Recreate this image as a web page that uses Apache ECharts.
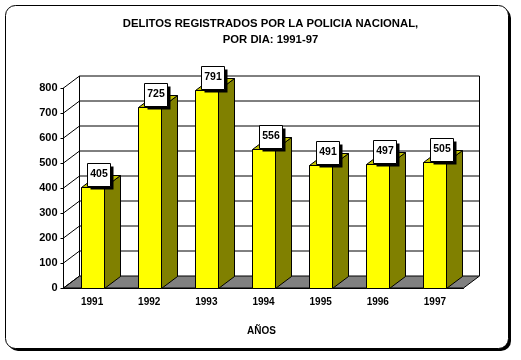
<!DOCTYPE html>
<html>
<head>
<meta charset="utf-8">
<style>
html, body { margin: 0; padding: 0; background: #fff; }
#chart { width: 521px; height: 360px; }
</style>
<script src="https://cdn.jsdelivr.net/npm/echarts@6/dist/echarts.min.js"></script>
</head>
<body>
<div id="chart"></div>
<script>
const years = ['1991', '1992', '1993', '1994', '1995', '1996', '1997']
const delitos = [405, 725, 791, 556, 491, 497, 505]
const yTicks = [0, 100, 200, 300, 400, 500, 600, 700, 800]
const titleText = 'DELITOS REGISTRADOS POR LA POLICIA NACIONAL,\nPOR DIA: 1991-97'
const xName = 'AÑOS'

const font = '"Liberation Sans", Arial, sans-serif'
const depthX = 16
const depthY = 12
const barW = 23
const line = { stroke: '#000', lineWidth: 1 }

// back wall, side wall and floor
function renderWall(params, api) {
    const box = params.coordSys
    const y = api.coord([0, api.value(1)])[1]
    const left = box.x
    const right = box.x + box.width
    const children = []
    if (api.value(1) === 0) {
        children.push({
            type: 'polygon',
            shape: { points: [[left, y], [right, y], [right + depthX, y - depthY], [left + depthX, y - depthY]] },
            style: { fill: '#808080', stroke: '#000', lineWidth: 1 }
        })
        children.push({
            type: 'line',
            shape: { x1: left + depthX, y1: box.y - depthY, x2: left + depthX, y2: y - depthY },
            style: line
        })
        children.push({
            type: 'line',
            shape: { x1: right + depthX, y1: box.y - depthY, x2: right + depthX, y2: y - depthY },
            style: line
        })
    } else {
        children.push({
            type: 'line',
            shape: { x1: left + depthX, y1: y - depthY, x2: right + depthX, y2: y - depthY },
            style: line
        })
    }
    children.push({
        type: 'line',
        shape: { x1: left, y1: y, x2: left + depthX, y2: y - depthY },
        style: line
    })
    return { type: 'group', children: children }
}

function renderBar(params, api) {
    const top = api.coord([api.value(0), api.value(1)])
    const base = api.coord([api.value(0), 0])
    const x0 = Math.round(top[0] - barW / 2) + 0.5
    const x1 = x0 + barW
    const yt = Math.round(top[1]) + 0.5
    const yb = Math.round(base[1]) + 0.5
    return {
        type: 'group',
        children: [
            {
                type: 'polygon',
                shape: { points: [[x1, yt], [x1 + depthX, yt - depthY], [x1 + depthX, yb - depthY], [x1, yb]] },
                style: { fill: '#808000', stroke: '#000', lineWidth: 1 }
            },
            {
                type: 'polygon',
                shape: { points: [[x0, yt], [x1, yt], [x1 + depthX, yt - depthY], [x0 + depthX, yt - depthY]] },
                style: { fill: '#c0c000', stroke: '#000', lineWidth: 1 }
            },
            {
                type: 'rect',
                shape: { x: x0, y: yt, width: barW, height: yb - yt },
                style: { fill: '#ffff00', stroke: '#000', lineWidth: 1 }
            }
        ]
    }
}

function renderLabel(params, api) {
    const top = api.coord([api.value(0), api.value(1)])
    const bx = Math.round(top[0] - 5) + 0.5
    const by = Math.round(top[1] - 24) + 0.5
    return {
        type: 'group',
        children: [
            {
                type: 'rect',
                shape: { x: bx + 3, y: by + 3, width: 23, height: 23 },
                style: { fill: '#000' }
            },
            {
                type: 'rect',
                shape: { x: bx, y: by, width: 23, height: 23 },
                style: { fill: '#fff', stroke: '#000', lineWidth: 1 }
            },
            {
                type: 'text',
                style: {
                    x: bx + 11.5,
                    y: by + 11,
                    text: String(api.value(1)),
                    align: 'center',
                    verticalAlign: 'middle',
                    font: 'bold 10.5px ' + font,
                    fill: '#000'
                }
            }
        ]
    }
}

const myChart = echarts.init(document.getElementById('chart'))
myChart.setOption({
    animation: false,
    backgroundColor: '#fff',
    graphic: [
        // frame with heavier right and bottom edges
        { type: 'rect', z: -10, silent: true, shape: { x: 8, y: 8, width: 503, height: 343, r: 10 }, style: { fill: '#000' } },
        { type: 'rect', z: -9, silent: true, shape: { x: 5.5, y: 5.5, width: 503, height: 343, r: 10 }, style: { fill: '#fff', stroke: '#000', lineWidth: 1 } }
    ],
    title: {
        text: titleText,
        left: 265.5,
        top: 11,
        textAlign: 'center',
        textStyle: { fontFamily: font, fontSize: 11.3, fontWeight: 'bold', color: '#000', lineHeight: 16 }
    },
    grid: { left: 63.5, top: 88, width: 400, height: 200 },
    xAxis: {
        type: 'category',
        data: years,
        name: xName,
        nameLocation: 'middle',
        nameGap: 38,
        nameTextStyle: { fontFamily: font, fontSize: 10, fontWeight: 'bold', color: '#000', padding: [0, 4, 0, 0] },
        axisLine: { lineStyle: { color: '#000', width: 1 } },
        axisTick: { length: 3, lineStyle: { color: '#000' } },
        axisLabel: { margin: 9, fontFamily: font, fontSize: 10, fontWeight: 'bold', color: '#000' },
        splitLine: { show: false }
    },
    yAxis: {
        type: 'value',
        min: 0,
        max: 800,
        interval: 100,
        axisLine: { show: true, lineStyle: { color: '#000', width: 1 } },
        axisTick: { show: true, length: 3, lineStyle: { color: '#000' } },
        axisLabel: { margin: 6, fontFamily: font, fontSize: 11, fontWeight: 'bold', color: '#000' },
        splitLine: { show: false }
    },
    series: [
        {
            type: 'custom',
            z: 1,
            clip: false,
            renderItem: renderWall,
            encode: { x: 0, y: 1 },
            data: yTicks.map(v => [0, v])
        },
        {
            type: 'custom',
            z: 2,
            clip: false,
            renderItem: renderBar,
            encode: { x: 0, y: 1 },
            data: delitos.map((v, i) => [i, v])
        },
        {
            type: 'custom',
            z: 3,
            clip: false,
            renderItem: renderLabel,
            encode: { x: 0, y: 1 },
            data: delitos.map((v, i) => [i, v])
        }
    ]
})
</script>
</body>
</html>
